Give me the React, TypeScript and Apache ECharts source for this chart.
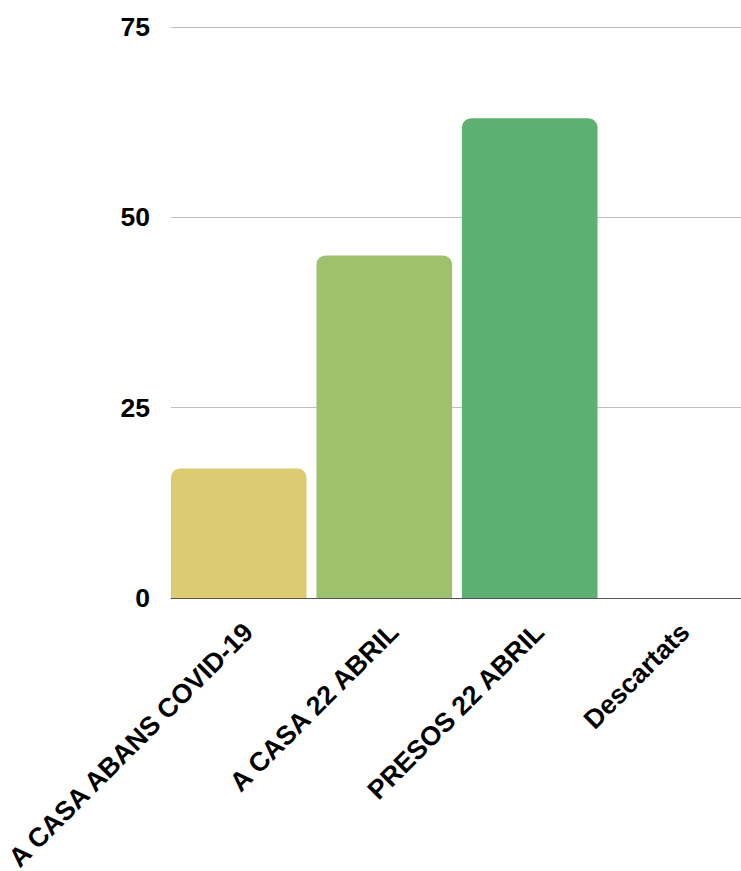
import React, { useEffect, useRef } from "react";
import * as echarts from "echarts";

const categories = ["A CASA ABANS COVID-19", "A CASA 22 ABRIL", "PRESOS 22 ABRIL", "Descartats"];
const values = [17, 45, 63, 0];
const colors = ["#dccb70", "#9dc16d", "#5fb173", "#4a8fd6"];
const yTicks = [0, 25, 50, 75];

const FONT = "Liberation Sans, Arial, sans-serif";

export default function App() {
  const ref = useRef<HTMLDivElement>(null);
  useEffect(() => {
    if (!ref.current) return;
    const chart = echarts.init(ref.current, null, { renderer: "svg" });
    const yMin = yTicks[0];
    const yMax = yTicks[yTicks.length - 1];
    chart.setOption({
      animation: false,
      textStyle: { fontFamily: FONT },
      grid: [
        { left: 166, right: -7, top: 27, bottom: 273, containLabel: false, outerBoundsMode: "none" },
        { left: 171, right: 0, top: 27, bottom: 273, containLabel: false, outerBoundsMode: "none" },
      ],
      xAxis: [
        {
          type: "category",
          gridIndex: 0,
          data: categories,
          axisLine: { show: false },
          axisTick: { show: false },
          axisLabel: {
            rotate: 45,
            interval: 0,
            margin: 20,
            verticalAlign: "top",
            color: "#000",
            fontWeight: "bold",
            fontSize: 26.7,
            fontFamily: FONT,
          },
        },
        {
          type: "category",
          gridIndex: 1,
          data: categories,
          axisLine: { show: true, lineStyle: { color: "#555", width: 1 } },
          axisTick: { show: false },
          axisLabel: { show: false },
        },
      ],
      yAxis: [
        {
          type: "value",
          gridIndex: 0,
          min: yMin,
          max: yMax,
          interval: 25,
          show: false,
          splitLine: { show: false },
        },
        {
          type: "value",
          gridIndex: 1,
          min: yMin,
          max: yMax,
          interval: 25,
          axisLine: { show: false },
          axisTick: { show: false },
          splitLine: { lineStyle: { color: "#c0c0c0", width: 1 } },
          axisLabel: {
            margin: 21,
            color: "#000",
            fontWeight: "bold",
            fontSize: 26.5,
            fontFamily: FONT,
          },
        },
      ],
      series: [
        {
          type: "bar",
          xAxisIndex: 0,
          yAxisIndex: 0,
          barCategoryGap: "6.8%",
          data: values.map((v, i) => ({
            value: v,
            itemStyle: { color: colors[i], borderRadius: [9, 9, 0, 0] },
          })),
        },
      ],
    });
    return () => chart.dispose();
  }, []);
  return <div ref={ref} style={{ width: 741, height: 871, position: "absolute", left: 0, top: 0 }} />;
}
